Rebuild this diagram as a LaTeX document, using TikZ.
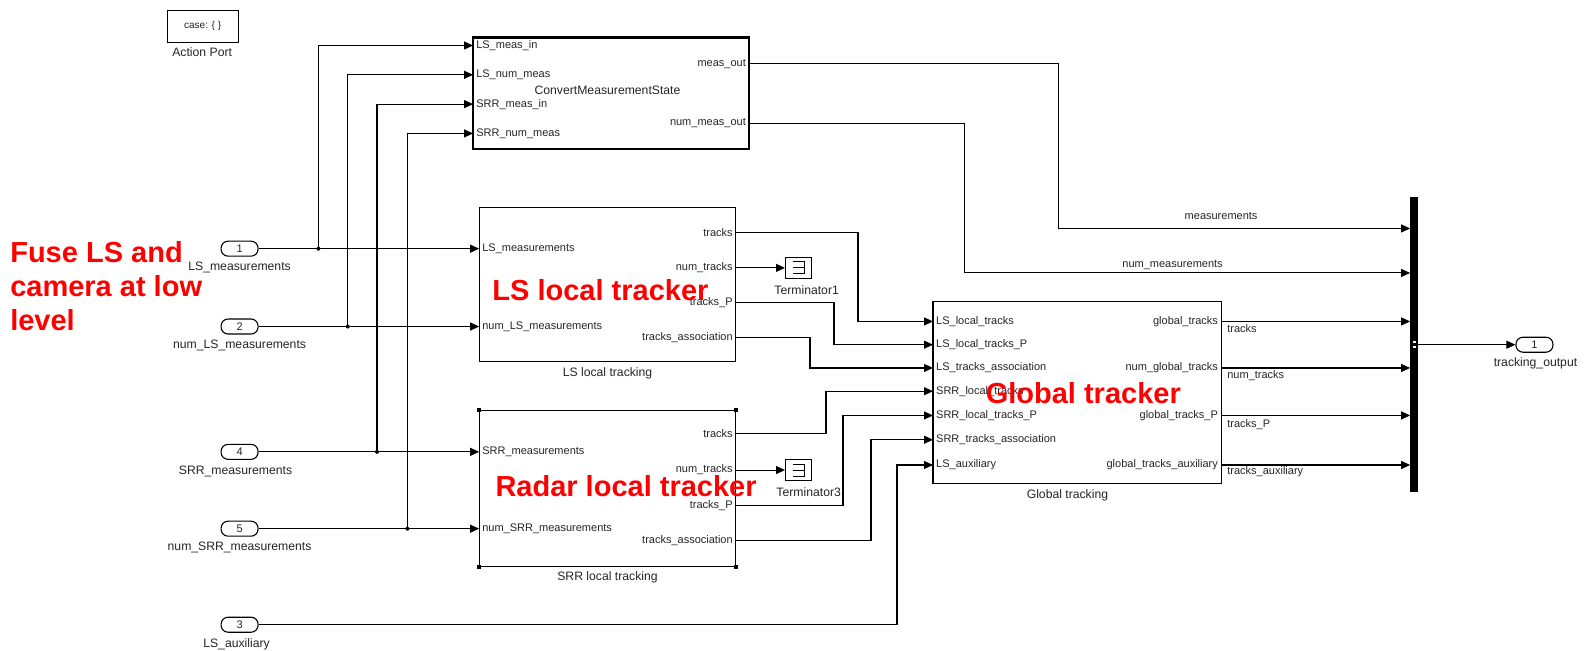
\documentclass[tikz,border=0pt]{standalone}
\usepackage{fontspec}
\setmainfont{Liberation Sans}
\usetikzlibrary{arrows.meta,fit,calc}
\begin{document}
\begin{tikzpicture}[x=1.0108pt,y=-1.0108pt,
  every node/.style={font=\fontsize{11}{13}\selectfont, text=black!85},
  blk/.style={draw, line width=1.1pt, inner sep=0pt},
  inl/.style={anchor=west, inner xsep=3pt, inner ysep=0pt},
  outl/.style={anchor=east, inner xsep=3pt, inner ysep=0pt},
  wire/.style={line width=1.1pt, line join=miter},
  sig/.style={wire, -{Triangle[length=9pt,width=8pt]}},
  port/.style={draw, line width=1.1pt, rounded corners=7pt, minimum width=37pt, minimum height=15pt, inner sep=0pt},
  lbl/.style={inner sep=0pt},
  nm/.style={inner sep=0pt, font=\fontsize{12.2}{14}\selectfont},
  redlbl/.style={font=\fontsize{29}{34}\selectfont\bfseries, text=red, inner sep=0pt},
  jdot/.style={circle, fill=black, inner sep=0pt, minimum size=4pt},
  handle/.style={fill=black, inner sep=0pt, minimum size=4pt},
]
\useasboundingbox[fill=white] (0,0) rectangle (1568,644);

% Action port
\node[blk, minimum width=71pt, minimum height=32pt, font=\fontsize{10}{12}\selectfont] (act) at (200.5,26) {case: \{ \}};
\node[nm] (actl) at (200,52) {Action Port};

% ConvertMeasurementState
\node[blk, line width=2.2pt, fit={(468,37)(741,147)}] (cv) {};
\node[inl] (cvin1) at (468,45) {LS\_meas\_in};
\node[inl] (cvin2) at (468,74) {LS\_num\_meas};
\node[inl] (cvin3) at (468,103) {SRR\_meas\_in};
\node[inl] (cvin4) at (468,132) {SRR\_num\_meas};
\node[outl] (cvout1) at (741,63) {meas\_out};
\node[outl] (cvout2) at (741,122) {num\_meas\_out};
\node[nm] (cvname) at (601,89) {ConvertMeasurementState};

% Inports
\node[port] (p1) at (237,246) {1};
\node[nm] (p1l) at (237,265) {LS\_measurements};
\node[port] (p2) at (237,323) {2};
\node[nm] (p2l) at (237,342) {num\_LS\_measurements};
\node[port] (p4) at (237,447) {4};
\node[nm] (p4l) at (233,466) {SRR\_measurements};
\node[port] (p5) at (237,523) {5};
\node[nm] (p5l) at (237,542) {num\_SRR\_measurements};
\node[port] (p3) at (237,618) {3};
\node[nm] (p3l) at (234,637) {LS\_auxiliary};

% LS local tracking
\node[blk, fit={(474,205)(728,358)}] (ls) {};
\node[inl] (lsin1) at (474,246) {LS\_measurements};
\node[inl] (lsin2) at (474,323) {num\_LS\_measurements};
\node[outl] (lsout1) at (728,230) {tracks};
\node[outl] (lsout2) at (728,265) {num\_tracks};
\node[outl] (lsout3) at (728,299) {tracks\_P};
\node[outl] (lsout4) at (728,334) {tracks\_association};
\node[nm] (lsname) at (601,369) {LS local tracking};

% SRR local tracking
\node[blk, fit={(474,406)(728,560)}] (srr) {};
\node[handle] (h1) at (srr.north west) {};
\node[handle] (h2) at (srr.north east) {};
\node[handle] (h3) at (srr.south west) {};
\node[handle] (h4) at (srr.south east) {};
\node[inl] (srrin1) at (474,447) {SRR\_measurements};
\node[inl] (srrin2) at (474,523) {num\_SRR\_measurements};
\node[outl] (srrout1) at (728,429) {tracks};
\node[outl] (srrout2) at (728,465) {num\_tracks};
\node[outl] (srrout3) at (728,500) {tracks\_P};
\node[outl] (srrout4) at (728,535) {tracks\_association};
\node[nm] (srrname) at (601,571) {SRR local tracking};

% Terminators
\node[blk, minimum width=26pt, minimum height=21pt] (t1) at (790,265) {};
\draw[line width=0.9pt] ($(t1.center)+(-6,-6)$) -- ++(12,0) -- ++(0,12) -- ++(-12,0) ($(t1.center)+(-6,0)$) -- ++(12,0);
\node[nm] (t1l) at (798,287) {Terminator1};
\node[blk, minimum width=26pt, minimum height=21pt] (t3) at (790,465) {};
\draw[line width=0.9pt] ($(t3.center)+(-6,-6)$) -- ++(12,0) -- ++(0,12) -- ++(-12,0) ($(t3.center)+(-6,0)$) -- ++(12,0);
\node[nm] (t3l) at (800,487) {Terminator3};

% Global tracking
\node[blk, fit={(923,298)(1208,478)}] (gl) {};
\node[inl] (glin1) at (923,318) {LS\_local\_tracks};
\node[inl] (glin2) at (923,341) {LS\_local\_tracks\_P};
\node[inl] (glin3) at (923,364) {LS\_tracks\_association};
\node[inl] (glin4) at (923,387) {SRR\_local\_tracks};
\node[inl] (glin5) at (923,411) {SRR\_local\_tracks\_P};
\node[inl] (glin6) at (923,435) {SRR\_tracks\_association};
\node[inl] (glin7) at (923,460) {LS\_auxiliary};
\node[outl] (glout1) at (1208,318) {global\_tracks};
\node[outl] (glout2) at (1208,364) {num\_global\_tracks};
\node[outl] (glout3) at (1208,411) {global\_tracks\_P};
\node[outl] (glout4) at (1208,460) {global\_tracks\_auxiliary};
\node[nm] (glname) at (1056,490) {Global tracking};

% Bus
\node[fill=black, inner sep=0pt, fit={(1395,195)(1403,487)}] (bus) {};
\coordinate (b1) at (1395,226);
\coordinate (b2) at (1395,270);
\coordinate (b3) at (1395,318);
\coordinate (b4) at (1395,364);
\coordinate (b5) at (1395,411);
\coordinate (b6) at (1395,460);
\fill[white] (1397.5,337) rectangle (1400.5,339.5);
\fill[white] (1397.5,342) rectangle (1400.5,344.5);
\node[port] (o1) at (1518,341) {1};
\node[nm] (o1l) at (1519,359) {tracking\_output};

% Connectors: inports
\coordinate (j1) at (315,246);
\coordinate (j2) at (344,323);
\coordinate (j3) at (373,447);
\coordinate (j4) at (403,523);
\draw[sig] (p1.east) -- (lsin1.west);
\draw[sig] (p2.east) -- (lsin2.west);
\draw[sig] (p4.east) -- (srrin1.west);
\draw[sig] (p5.east) -- (srrin2.west);
\draw[sig] (j1) |- (cvin1.west);
\draw[sig] (j2) |- (cvin2.west);
\draw[sig] (j3) |- (cvin3.west);
\draw[sig] (j4) |- (cvin4.west);
\node[jdot] (d1) at (j1) {};
\node[jdot] (d2) at (j2) {};
\node[jdot] (d3) at (j3) {};
\node[jdot] (d4) at (j4) {};
\draw[sig] (p3.east) -| ([xshift=-36]glin7.west) -- (glin7.west);

% Local trackers to global
\draw[sig] (lsout1.east) -| ([xshift=-75]glin1.west) -- (glin1.west);
\draw[sig] (lsout3.east) -| ([xshift=-99]glin2.west) -- (glin2.west);
\draw[sig] (lsout4.east) -| ([xshift=-123]glin3.west) -- (glin3.west);
\draw[sig] (srrout1.east) -| ([xshift=-107]glin4.west) -- (glin4.west);
\draw[sig] (srrout3.east) -| ([xshift=-90]glin5.west) -- (glin5.west);
\draw[sig] (srrout4.east) -| ([xshift=-62]glin6.west) -- (glin6.west);
\draw[sig] (lsout2.east) -- (t1.west);
\draw[sig] (srrout2.east) -- (t3.west);

% To bus
\draw[sig] (cvout1.east) -| ([xshift=-352]b1) -- (b1);
\draw[sig] (cvout2.east) -| ([xshift=-446]b2) -- (b2);
\draw[sig] (glout1.east) -- (b3);
\draw[sig] (glout2.east) -- (b4);
\draw[sig] (glout3.east) -- (b5);
\draw[sig] (glout4.east) -- (b6);
\draw[sig] (bus.east) -- (o1.west);

% Wire labels
\node[lbl] (w1) at (1208,214) {measurements};
\node[lbl] (w2) at (1160,262) {num\_measurements};
\node[lbl, anchor=west] (w3) at (1214,325) {tracks};
\node[lbl, anchor=west] (w4) at (1214,372) {num\_tracks};
\node[lbl, anchor=west] (w5) at (1214,420) {tracks\_P};
\node[lbl, anchor=west] (w6) at (1214,467) {tracks\_auxiliary};

% Red annotations
\node[redlbl, anchor=north west, align=left] (r1) at (10,239) {Fuse LS and\\camera at low\\level};
\node[redlbl, anchor=base west] (r2) at (487,297) {LS local tracker};
\node[redlbl, anchor=base west] (r3) at (490,491) {Radar local tracker};
\node[redlbl, anchor=base west] (r4) at (975,399) {Global tracker};
\end{tikzpicture}
\end{document}
